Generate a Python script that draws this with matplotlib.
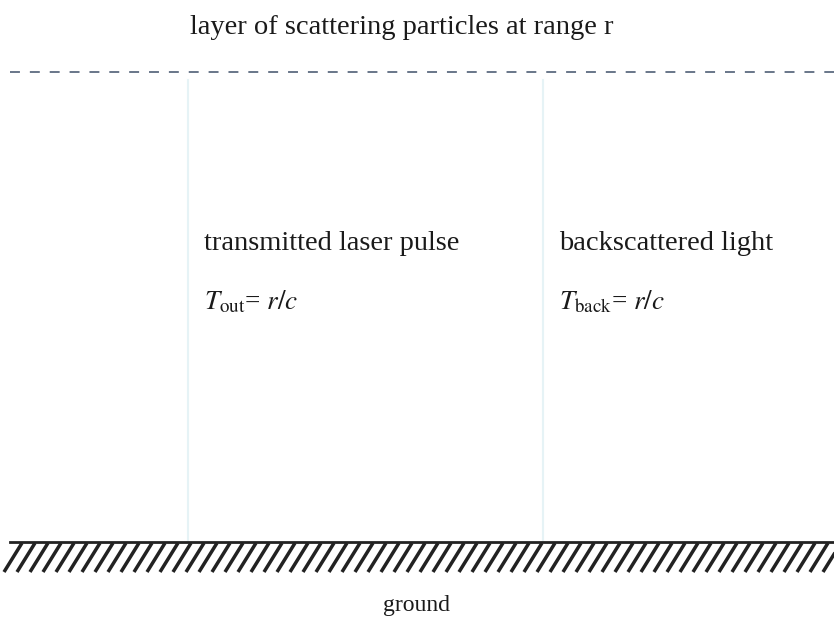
import numpy as np
import matplotlib.pyplot as plt

plt.rcParams["font.family"] = ["Liberation Serif", "DejaVu Serif"]
plt.rcParams["mathtext.fontset"] = "stix"

# diagram layout (in pixel units of the 834x626 canvas, y down)
layer_y = 72
ground_top = 542
ground_bottom = 572
beam_x = [188, 543]
beam_span = [80, 540]

labels = ["transmitted laser pulse", "backscattered light"]
timings = [r"$T_{\mathrm{out}}$= $r/c$", r"$T_{\mathrm{back}}$= $r/c$"]
title = "layer of scattering particles at range r"
ground_label = "ground"

TEXT_COL = "#1a1a1a"
DASH_COL = "#5d6b80"
BEAM_COL = "#e6f3f6"

fig = plt.figure(figsize=(8.34, 6.26), dpi=100, facecolor="white")
ax = fig.add_axes([0, 0, 1, 1])
ax.set_xlim(0, 834)
ax.set_ylim(626, 0)
ax.axis("off")

# scattering layer
ax.plot([10, 834], [layer_y, layer_y], color=DASH_COL, linewidth=1.3,
        linestyle=(0, (5.5, 5.5)))
ax.text(402, 28, title, color=TEXT_COL, fontsize=20.5, ha="center", va="center")

# faint beam paths (up and back)
for bx in beam_x:
    ax.plot([bx, bx], beam_span, color=BEAM_COL, linewidth=1.5)

# labels
for bx, lab, tm in zip(beam_x, labels, timings):
    ax.text(bx + 16, 243, lab, color=TEXT_COL, fontsize=20.5, ha="left", va="center")
    ax.text(bx + 16, 302, tm, color=TEXT_COL, fontsize=19.5, ha="left", va="center")

# ground with hatching
ax.plot([10, 834], [ground_top, ground_top], color="#222222", linewidth=2)
slant = 18
for x0 in np.arange(4, 860, 13):
    ax.plot([x0, x0 + slant], [ground_bottom, ground_top + 1], color="#222222",
            linewidth=2.5, solid_capstyle="butt")
ax.text(417, 605, ground_label, color=TEXT_COL, fontsize=17, ha="center", va="center")

fig.savefig("out.png", dpi=100, facecolor="white")
